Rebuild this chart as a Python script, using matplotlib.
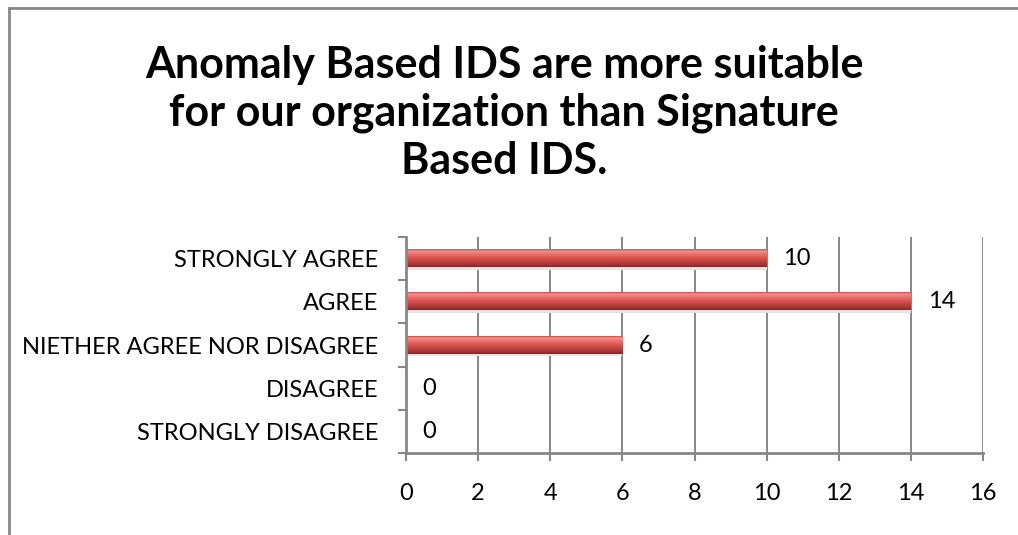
import numpy as np
import matplotlib
matplotlib.use('agg')
import matplotlib.pyplot as plt
from matplotlib.colors import LinearSegmentedColormap
from matplotlib.lines import Line2D

categories = ['STRONGLY DISAGREE', 'DISAGREE', 'NIETHER AGREE NOR DISAGREE',
              'AGREE', 'STRONGLY AGREE']
responses = [0, 0, 6, 14, 10]
x_ticks = [0, 2, 4, 6, 8, 10, 12, 14, 16]
title = ('Anomaly Based IDS are more suitable\n'
         'for our organization than Signature\n'
         'Based IDS.')

plt.rcParams['font.family'] = ['Lato', 'DejaVu Sans']

GRAY = '#878787'
BAR_H = 0.40
FS = 17

# glossy red shading, top to bottom
bar_cmap = LinearSegmentedColormap.from_list('bar', [
    (0.00, '#d84744'), (0.10, '#f4908d'), (0.30, '#e96d6a'),
    (0.50, '#dc524f'), (0.68, '#bd4340'), (0.88, '#9e3735'),
    (1.00, '#772927')])
grad = np.linspace(0, 1, 64).reshape(-1, 1)

fig = plt.figure(figsize=(10.18, 5.35), dpi=100)
ax = fig.add_axes([406 / 1018, 1 - 453 / 535, 577 / 1018, 216 / 535])

ypos = np.arange(len(categories))
for y, v in zip(ypos, responses):
    if v > 0:
        # soft shadow under the bar
        ax.barh(y - BAR_H / 2 - 0.03, v, height=0.06, color='#e3e3e3',
                zorder=2)
        ax.imshow(grad, extent=(0, v, y - BAR_H / 2, y + BAR_H / 2),
                  aspect='auto', cmap=bar_cmap, zorder=3,
                  interpolation='bilinear')
    ax.annotate(str(v), (v, y), xytext=(12, 0), textcoords='offset points',
                ha='left', va='center', fontsize=FS, color='black')

ax.set_xlim(0, 16)
ax.set_ylim(-0.5, len(categories) - 0.5)
ax.set_aspect('auto')

ax.set_xticks(x_ticks)
ax.set_xticklabels([str(t) for t in x_ticks], fontsize=FS)
ax.set_yticks(ypos)
ax.set_yticklabels(categories, fontsize=FS)
ax.set_yticks(np.arange(-0.5, len(categories)), minor=True)

ax.tick_params(axis='y', which='major', length=0, pad=20)
ax.tick_params(axis='y', which='minor', length=5.8, width=1.5, color=GRAY,
               direction='out')
ax.tick_params(axis='x', length=5.8, width=1.5, color=GRAY, pad=16)

ax.grid(axis='x', color=GRAY, linewidth=1.4, zorder=0)
ax.set_axisbelow(True)
for side in ('top', 'right'):
    ax.spines[side].set_visible(False)
for side in ('left', 'bottom'):
    ax.spines[side].set_color(GRAY)
    ax.spines[side].set_linewidth(2)
    ax.spines[side].set_zorder(4)

fig.text(504 / 1018, 1 - 113 / 535, title, ha='center', va='center',
         fontsize=31, fontweight='bold', linespacing=1.22)

# chart frame, left and top edges
fig.add_artist(Line2D([8.5 / 1018, 8.5 / 1018], [0, 1 - 8 / 535],
                      color=GRAY, linewidth=2))
fig.add_artist(Line2D([8.5 / 1018, 1], [1 - 8 / 535, 1 - 8 / 535],
                      color=GRAY, linewidth=2))

fig.savefig('out.png', dpi=100)
